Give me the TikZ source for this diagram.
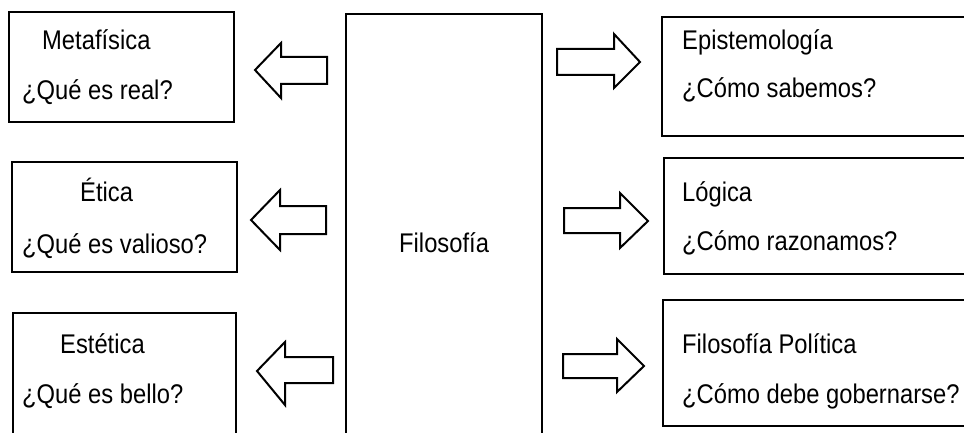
\documentclass[tikz,border=0pt]{standalone}
\usepackage{fontspec}
\setmainfont{Liberation Sans}[FakeStretch=0.88]
\begin{document}
\begin{tikzpicture}[x=1pt,y=-1pt,
  box/.style={draw=black,line width=2pt,rectangle,anchor=north west,inner sep=0pt},
  lbl/.style={anchor=base west,inner sep=0pt,font=\fontsize{27}{32}\selectfont},
  blockarrow/.style={draw=black,line width=2pt,line join=miter,fill=white}]
\useasboundingbox (0,0) rectangle (964,433);
\clip (0,0) rectangle (964,433);
% left boxes
\node[box,minimum width=225pt,minimum height=110pt] (meta) at (8,11) {};
\node[box,minimum width=225pt,minimum height=110pt] (etica) at (11,161) {};
\node[box,minimum width=223pt,minimum height=150pt] (estet) at (12,312) {};
% central box
\node[box,minimum width=196pt,minimum height=460pt] (filo) at (345,13) {};
% right boxes
\node[box,minimum width=340pt,minimum height=119pt] (epis) at (661,16) {};
\node[box,minimum width=340pt,minimum height=116pt] (logi) at (663,157) {};
\node[box,minimum width=340pt,minimum height=126pt] (poli) at (662,299) {};
% texts
\node[lbl] (t1a) at (42,50) {Metafísica};
\node[lbl] (t1b) at (22,100) {¿Qué es real?};
\node[lbl] (t2a) at (80,201) {Ética};
\node[lbl] (t2b) at (22,253) {¿Qué es valioso?};
\node[lbl] (t3a) at (60,353) {Estética};
\node[lbl] (t3b) at (22,403) {¿Qué es bello?};
\node[lbl] (tc) at (399,252) {Filosofía};
\node[lbl] (t4a) at (682,50) {Epistemología};
\node[lbl] (t4b) at (682,98) {¿Cómo sabemos?};
\node[lbl] (t5a) at (682,201) {Lógica};
\node[lbl] (t5b) at (682,250) {¿Cómo razonamos?};
\node[lbl] (t6a) at (682,353) {Filosofía Política};
\node[lbl] (t6b) at (682,403) {¿Cómo debe gobernarse?};
% left block arrows
\draw[blockarrow] (255,70) -- (281,43) -- (281,57) -- (327,57) -- (327,84) -- (281,84) -- (281,98) -- cycle;
\draw[blockarrow] (251,220) -- (280,190) -- (280,206) -- (326,206) -- (326,234) -- (280,234) -- (280,250) -- cycle;
\draw[blockarrow] (257,371) -- (285,342) -- (285,357) -- (333,357) -- (333,383) -- (285,383) -- (285,405) -- cycle;
% right block arrows
\draw[blockarrow] (640,62) -- (614,34) -- (614,49) -- (557,49) -- (557,75) -- (614,75) -- (614,88) -- cycle;
\draw[blockarrow] (648,221) -- (620,193) -- (620,208) -- (564,208) -- (564,233) -- (620,233) -- (620,248) -- cycle;
\draw[blockarrow] (644,366) -- (617,339) -- (617,354) -- (563,354) -- (563,378) -- (617,378) -- (617,392) -- cycle;
\end{tikzpicture}
\end{document}
